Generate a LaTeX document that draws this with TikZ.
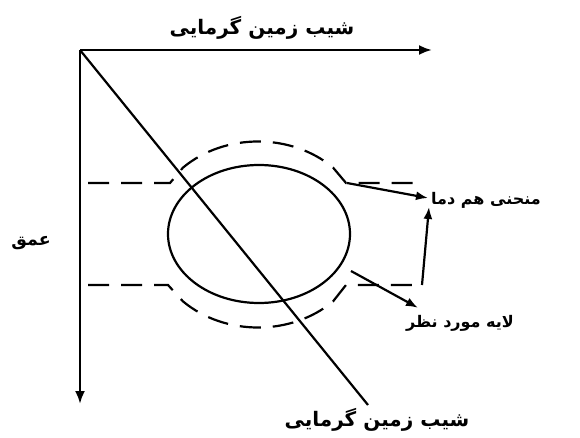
\documentclass[tikz,border=0pt]{standalone}
\usepackage{fontspec}
\usepackage{tikz}
\usetikzlibrary{arrows.meta}
\TeXXeTstate=1
\newfontfamily\arabicfont[Script=Arabic]{DejaVu Sans}

\begin{document}
\begin{tikzpicture}[x=1pt, y=-1pt,
    axis/.style={line width=2.5pt, -{Latex[length=13pt,width=10pt]}},
    curve/.style={line width=2.2pt},
    isoline/.style={line width=2.2pt, dash pattern=on 21pt off 12pt},
    arrow/.style={line width=2.2pt, -{Latex[length=12pt,width=9pt]}},
    lbl/.style={font=\arabicfont\bfseries\fontsize{16}{19}\selectfont, inner sep=0pt},
    biglbl/.style={font=\arabicfont\bfseries\fontsize{20}{24}\selectfont, inner sep=0pt}
]
\useasboundingbox (0,0) rectangle (580,438);

% labels
\node[biglbl] (toplbl) at (262,28) {\beginR شیب زمین گرمایی\endR};
\node[biglbl] (botlbl) at (377,420) {\beginR شیب زمین گرمایی\endR};
\node[lbl, font=\arabicfont\bfseries\fontsize{17.5}{20}\selectfont] (depth) at (31,243) {\beginR عمق\endR};
\node[lbl] (iso) at (486,200) {\beginR منحنی هم دما\endR};
\node[lbl] (layer) at (460,323) {\beginR لایه مورد نظر\endR};

% axes and gradient line
\coordinate (o) at (80,50);
\coordinate (xend) at (432,50);
\coordinate (yend) at (80,404);
\coordinate (gend) at (368,405);
\draw[axis] (o) -- (xend);
\draw[axis] (o) -- (yend);
\draw[curve] (o) -- (gend);

% layer and isotherms
\draw[curve] (259,234) ellipse [x radius=91, y radius=69];
\draw[isoline] (88,183) -- (170,183) -- (183,167.6)
    arc[start angle=-134, end angle=-46, x radius=108, y radius=93]
    -- (346,183) -- (422,183);
\draw[isoline] (88,285) -- (168,285) -- (183,301.4)
    arc[start angle=134, end angle=46, x radius=108, y radius=93]
    -- (346,285) -- (422,285);

% pointers
\coordinate (c1) at (347,183);
\coordinate (c2) at (422,285);
\coordinate (c3) at (351,271);
\draw[arrow] (c1) -- ([xshift=-3pt,yshift=2pt]iso.west);
\draw[arrow] (c2) -- ([xshift=-2pt,yshift=-7pt]iso.west);
\draw[arrow] (c3) -- ([xshift=12pt,yshift=7pt]layer.north west);
\end{tikzpicture}
\end{document}
